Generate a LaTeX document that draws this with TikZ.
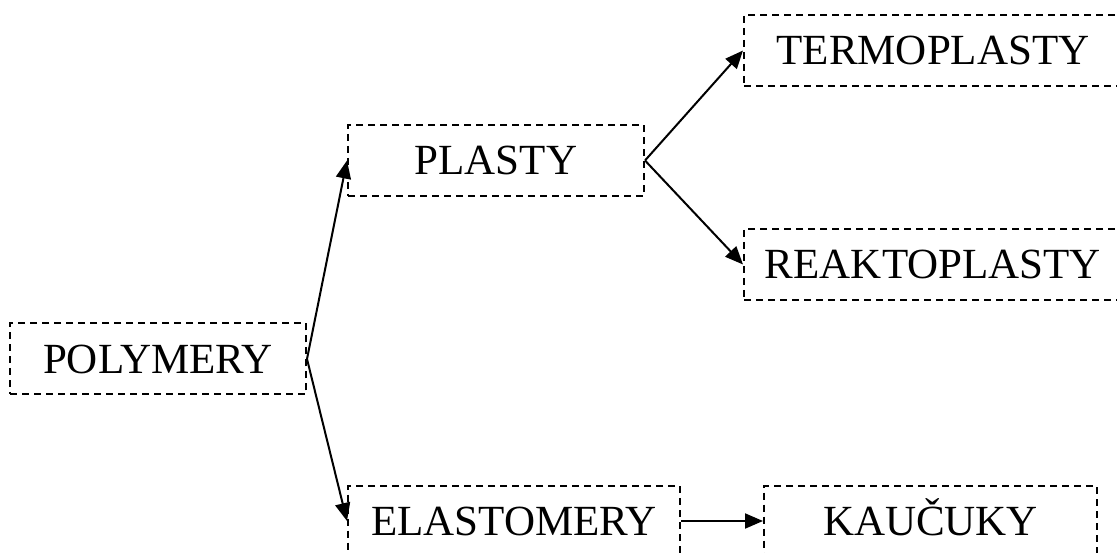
\documentclass[tikz,border=0pt]{standalone}
\usepackage{fontspec}
\setmainfont{Liberation Serif}
\usetikzlibrary{arrows.meta}
\begin{document}
\begin{tikzpicture}[x=1pt,y=-1pt,
  box/.style={draw, rectangle, dash pattern=on 7pt off 5pt, line width=2pt,
    inner sep=0pt, minimum height=71pt, text height=29pt, text depth=0pt,
    font=\fontsize{43}{43}\selectfont},
  link/.style={line width=2pt, -{Triangle[length=18pt,width=15pt]}}]
\useasboundingbox (0,0) rectangle (1117,553);
\clip (0,0) rectangle (1117,553);
% classification boxes
\node[box, minimum width=296pt] (pol) at (158,359) {POLYMERY};
\node[box, minimum width=296pt] (pla) at (496,160.5) {PLASTY};
\node[box, minimum width=378pt] (ter) at (933,50.5) {TERMOPLASTY};
\node[box, minimum width=378pt] (rea) at (933,264.5) {REAKTOPLASTY};
\node[box, minimum width=332pt] (ela) at (514,521) {ELASTOMERY};
\node[box, minimum width=333pt] (kau) at (930.5,521) {KAUČUKY};
% connectors
\draw[link] (pol.east) -- (pla.west);
\draw[link] (pol.east) -- (ela.west);
\draw[link] (pla.east) -- (ter.west);
\draw[link] (pla.east) -- (rea.west);
\draw[link] (ela.east) -- (kau.west);
\end{tikzpicture}
\end{document}
